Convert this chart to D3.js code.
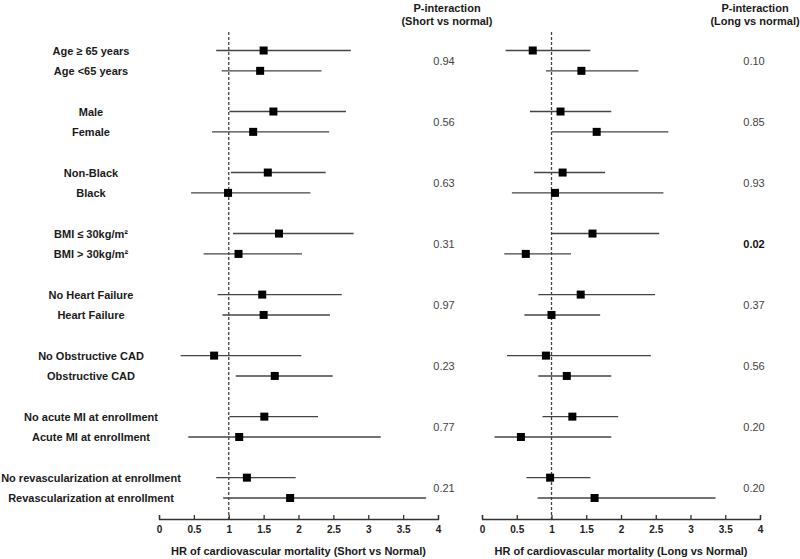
<!DOCTYPE html>
<html>
<head>
    <meta charset="utf-8">
    <script src="https://cdn.jsdelivr.net/npm/d3@7"></script>
</head>
<body style="margin:0;background:#fff;">
<style>
    text{font-family:Arial,"Liberation Sans",sans-serif;}
    .lab{font-weight:bold;font-size:11px;fill:#1a1a1a;text-anchor:middle;}
    .pval{font-size:11px;fill:#444;text-anchor:middle;}
    .head{font-weight:bold;font-size:11px;fill:#1a1a1a;text-anchor:middle;}
    .ci{stroke:#444;stroke-width:1.4;}
    .ref{stroke:#444;stroke-width:1.3;stroke-dasharray:3,2;}
    .axis path,.axis line{stroke:#333;stroke-width:1.3;}
    .axis text{font-weight:bold;font-size:10px;fill:#222;}
    .atitle{font-weight:bold;font-size:11px;fill:#1a1a1a;text-anchor:middle;}
</style>
<script>
var w=800,h=559;
var svg=d3.select('body').append('svg').attr('width',w).attr('height',h);

// subgroup labels, two per group
var labels=['Age \u2265 65 years','Age <65 years','Male','Female','Non-Black','Black',
    'BMI \u2264 30kg/m\u00b2','BMI > 30kg/m\u00b2','No Heart Failure','Heart Failure',
    'No Obstructive CAD','Obstructive CAD','No acute MI at enrollment','Acute MI at enrollment',
    'No revascularization at enrollment','Revascularization at enrollment'];

// short vs normal: HR, lower, upper
var shortHR=[1.50,1.45,1.64,1.35,1.56,0.99,1.72,1.14,1.48,1.50,0.79,1.66,1.51,1.15,1.26,1.88];
var shortLo=[0.82,0.90,1.01,0.76,1.03,0.46,1.06,0.64,0.84,0.91,0.31,1.10,1.01,0.42,0.82,0.92];
var shortHi=[2.75,2.33,2.68,2.44,2.39,2.17,2.79,2.05,2.62,2.45,2.04,2.49,2.28,3.18,1.96,3.83];

// long vs normal
var longHR=[0.73,1.43,1.13,1.65,1.16,1.05,1.59,0.63,1.42,1.00,0.92,1.22,1.30,0.56,0.98,1.62];
var longLo=[0.34,0.92,0.69,1.00,0.75,0.43,1.00,0.32,0.81,0.61,0.36,0.81,0.87,0.18,0.64,0.80];
var longHi=[1.56,2.25,1.86,2.68,1.77,2.61,2.55,1.28,2.49,1.70,2.43,1.86,1.96,1.86,1.56,3.36];

var pShort=['0.94','0.56','0.63','0.31','0.97','0.23','0.77','0.21'];
var pLong=['0.10','0.85','0.93','0.02','0.37','0.56','0.20','0.20'];
var pLongBold=[false,false,false,true,false,false,false,false];

var ticks=[0,0.5,1,1.5,2,2.5,3,3.5,4];

// row slots: groups of 3 (two rows + gap)
var slot=function(i){return Math.floor(i/2)*3+(i%2);};
var y=d3.scaleLinear().domain([0,22]).range([50.5,498]);
var axisY=519;

var xL=d3.scaleLinear().domain([0,4]).range([159,438]);
var xR=d3.scaleLinear().domain([0,4]).range([482,760]);

// labels
svg.selectAll('text.lab').data(labels).enter().append('text')
    .attr('class','lab')
    .attr('x',91)
    .attr('y',function(d,i){return y(slot(i))+4;})
    .text(function(d){return d;});

function panel(x,hr,lo,hi,title){
    var g=svg.append('g');
    g.append('line').attr('class','ref')
        .attr('x1',x(1)).attr('x2',x(1)).attr('y1',32).attr('y2',axisY);
    g.selectAll('line.ci').data(hr).enter().append('line')
        .attr('class','ci')
        .attr('x1',function(d,i){return x(lo[i]);})
        .attr('x2',function(d,i){return x(hi[i]);})
        .attr('y1',function(d,i){return y(slot(i));})
        .attr('y2',function(d,i){return y(slot(i));});
    g.selectAll('rect').data(hr).enter().append('rect')
        .attr('x',function(d){return x(d)-4;})
        .attr('y',function(d,i){return y(slot(i))-4;})
        .attr('width',8).attr('height',8).attr('fill','#000');
    var ax=g.append('g').attr('class','axis')
        .attr('transform','translate(0,'+axisY+')')
        .call(d3.axisTop(x).tickValues(ticks).tickSize(4).tickSizeOuter(4).tickFormat(d3.format('~g')));
    ax.selectAll('text').attr('y',14).attr('dy',0);
    g.append('text').attr('class','atitle')
        .attr('x',(x.range()[0]+x.range()[1])/2).attr('y',555)
        .text(title);
}
panel(xL,shortHR,shortLo,shortHi,'HR of cardiovascular mortality (Short vs Normal)');
panel(xR,longHR,longLo,longHi,'HR of cardiovascular mortality (Long vs Normal)');

// p-interaction columns
svg.append('text').attr('class','head').attr('x',447).attr('y',12).text('P-interaction');
svg.append('text').attr('class','head').attr('x',447).attr('y',25).text('(Short vs normal)');
svg.append('text').attr('class','head').attr('x',755).attr('y',12).text('P-interaction');
svg.append('text').attr('class','head').attr('x',755).attr('y',25).text('(Long vs normal)');

svg.selectAll('text.ps').data(pShort).enter().append('text')
    .attr('class','pval ps').attr('x',444)
    .attr('y',function(d,i){return y(i*3+0.5)+4;})
    .text(function(d){return d;});
svg.selectAll('text.pl').data(pLong).enter().append('text')
    .attr('class','pval pl').attr('x',754)
    .attr('y',function(d,i){return y(i*3+0.5)+4;})
    .style('font-weight',function(d,i){return pLongBold[i]?'bold':'normal';})
    .style('fill',function(d,i){return pLongBold[i]?'#111':null;})
    .text(function(d){return d;});
</script>
</body>
</html>
